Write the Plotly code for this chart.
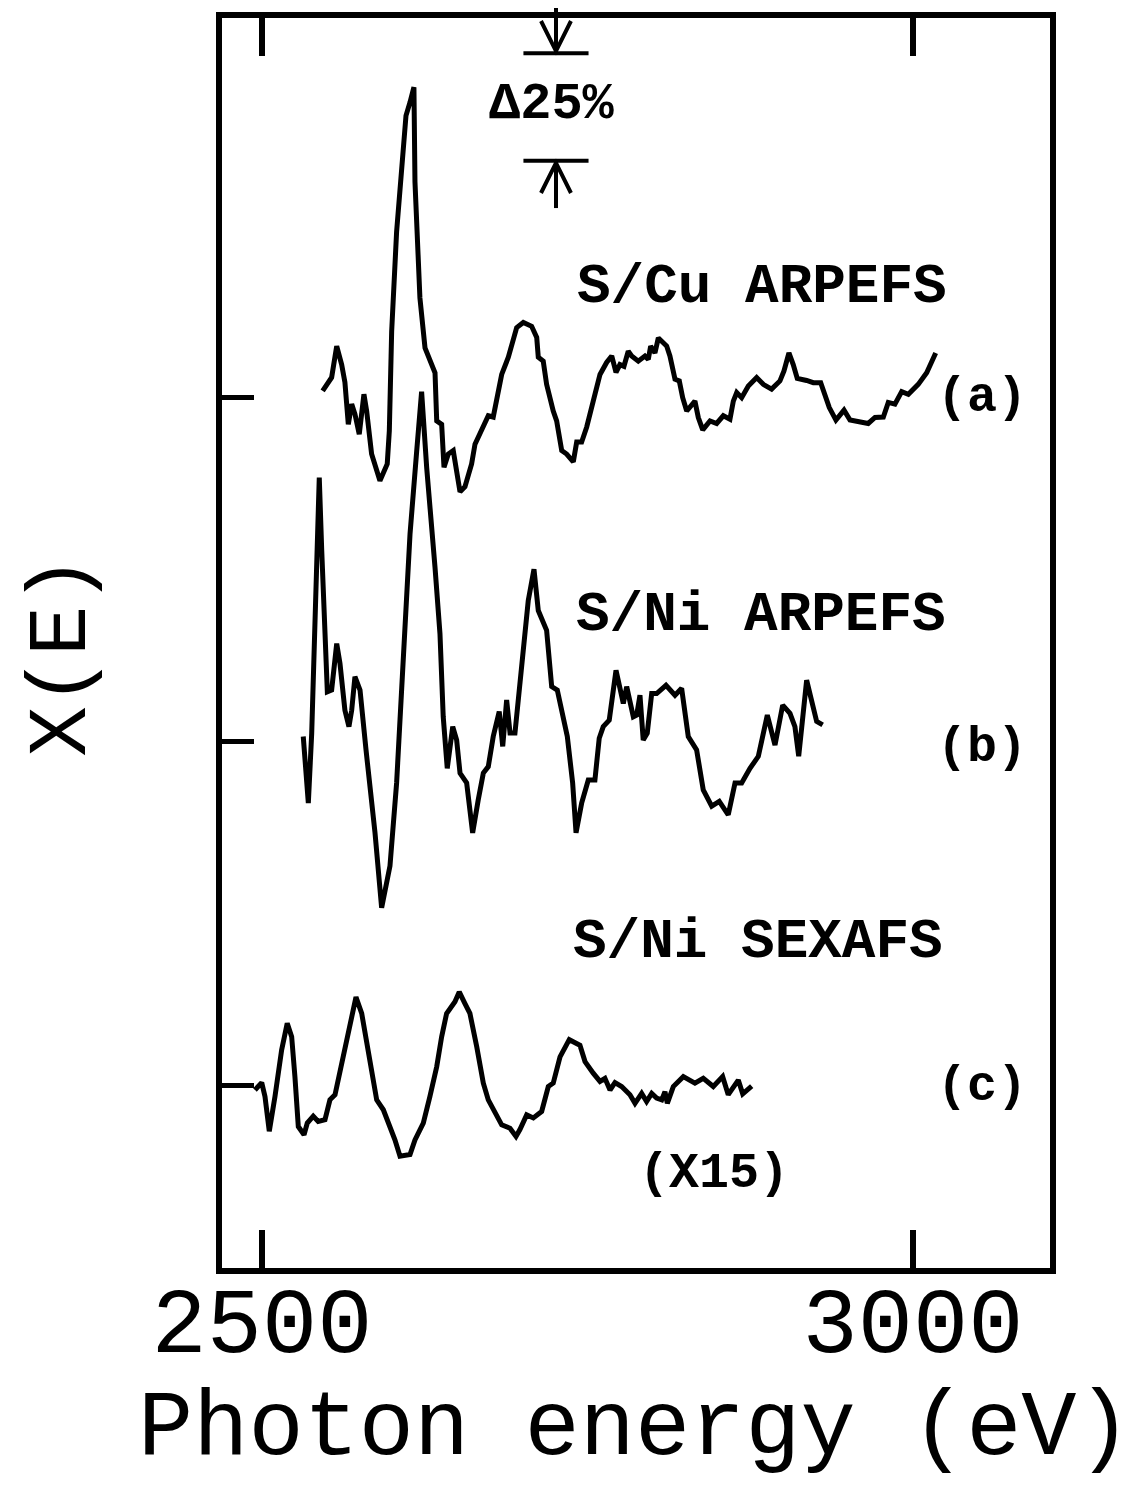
import plotly.graph_objects as go

# ---------------- data (photon energy in eV, chi in % units) ----------------
# (a) S/Cu ARPEFS
cu_arpefs_E = [2546.6, 2553.5, 2557.4, 2561.2, 2563.7, 2566.3, 2568.9, 2571.4, 2574.7, 2578.3,
               2580.4, 2584.2, 2590.6, 2596.2, 2597.8, 2599.6, 2603.4, 2607.3, 2610.6, 2613.7,
               2616.7, 2617.5, 2618.8, 2621.3, 2625.2, 2629.8, 2632.9, 2634.2, 2638.0, 2639.8,
               2643.1, 2646.9, 2649.5, 2652.1, 2655.9, 2661.0, 2663.6, 2670.0, 2673.8, 2677.6,
               2680.2, 2684.1, 2689.2, 2695.6, 2700.7, 2707.1, 2711.0, 2712.2, 2716.0, 2718.6,
               2723.7, 2726.3, 2730.2, 2734.0, 2739.1, 2741.7, 2745.5, 2749.4, 2754.4, 2759.6,
               2764.7, 2768.6, 2771.9, 2774.9, 2778.0, 2781.3, 2783.9, 2789.0, 2794.1, 2796.7,
               2798.5, 2801.8, 2804.4, 2810.8, 2813.3, 2817.2, 2820.5, 2823.1, 2826.2, 2832.5,
               2835.1, 2838.5, 2844.1, 2849.2, 2854.3, 2859.4, 2862.0, 2864.6, 2868.4, 2873.5,
               2879.9, 2885.0, 2891.4, 2897.8, 2900.9, 2904.7, 2908.0, 2911.1, 2918.3, 2923.4,
               2929.1, 2932.4, 2935.7, 2940.8, 2947.0, 2951.6, 2959.3, 2965.6, 2970.8, 2977.2,
               2981.0, 2986.1, 2991.3, 2996.4, 3004.0, 3010.5, 3017.4]
cu_arpefs_chi = [1.5, 4.6, 11.9, 7.6, 3.5, -6.3, -1.6, -3.9, -8.6, 0.7,
                 -3.2, -13.2, -19.4, -15.5, -7.8, 15.3, 38.5, 53.9, 65.5, 68.6,
                 72.1, 50.1, 38.5, 23.1, 11.5, 7.6, 5.7, -5.5, -6.3, -16.3,
                 -13.2, -12.4, -17.1, -22.0, -20.8, -15.5, -10.9, -6.9, -4.3, -4.6,
                 0.0, 5.3, 9.3, 16.2, 17.4, 16.5, 13.9, 9.3, 8.4, 3.0,
                 -3.2, -5.5, -12.4, -13.2, -15.0, -10.4, -10.4, -6.9, -0.9, 5.3,
                 8.1, 9.6, 5.8, 7.6, 7.2, 10.7, 9.6, 8.4, 9.6, 8.8,
                 11.9, 10.3, 13.8, 11.9, 9.6, 4.2, 3.8, -0.1, -3.2, -0.9,
                 -4.7, -7.6, -5.5, -6.1, -4.3, -5.1, -0.9, 1.1, -0.1, 2.6,
                 4.6, 3.0, 1.9, 3.8, 6.1, 10.3, 7.6, 4.4, 3.9, 3.4,
                 3.4, 0.7, -2.4, -5.3, -3.0, -5.3, -5.6, -6.1, -4.7, -4.6,
                 -1.2, -1.6, 1.3, 0.7, 3.0, 5.7, 10.3]

# (b) S/Ni ARPEFS
ni_arpefs_E = [2531.7, 2535.6, 2538.2, 2539.4, 2541.5, 2544.0, 2545.9, 2548.4, 2550.2, 2553.5,
               2557.4, 2559.9, 2563.7, 2566.8, 2568.9, 2571.4, 2575.3, 2579.9, 2586.8, 2591.9,
               2598.3, 2603.4, 2608.5, 2613.7, 2618.8, 2622.6, 2626.5, 2630.3, 2632.9, 2636.7,
               2639.2, 2642.3, 2646.5, 2649.5, 2652.1, 2657.2, 2661.8, 2666.1, 2670.0, 2673.8,
               2677.6, 2682.2, 2684.9, 2687.9, 2690.5, 2694.3, 2698.1, 2704.5, 2708.9, 2712.2,
               2718.6, 2722.5, 2726.8, 2731.4, 2734.5, 2738.6, 2741.2, 2745.5, 2750.6, 2755.7,
               2759.0, 2762.1, 2766.7, 2771.9, 2774.9, 2777.5, 2780.1, 2782.6, 2785.2, 2787.8,
               2790.3, 2792.8, 2795.9, 2799.3, 2803.1, 2810.3, 2817.2, 2822.3, 2827.4, 2833.8,
               2838.9, 2845.4, 2851.2, 2858.1, 2863.3, 2868.4, 2874.8, 2881.2, 2888.1, 2894.0,
               2899.9, 2905.5, 2909.3, 2912.2, 2918.3, 2921.4, 2926.0, 2930.6]
ni_arpefs_chi = [1.1, -14.4, 1.9, 16.5, 36.6, 61.3, 44.3, 21.1, 11.5, 11.9,
                 22.7, 18.1, 7.2, 3.4, 7.2, 15.0, 11.9, -2.0, -21.3, -38.7,
                 -29.0, -9.7, 21.1, 48.2, 67.4, 81.3, 63.6, 50.5, 40.4, 25.0,
                 5.7, -6.3, 3.4, 0.3, -7.4, -9.7, -21.3, -13.6, -7.4, -5.9,
                 1.1, 6.9, -1.2, 9.6, 1.9, 1.9, 13.4, 32.7, 40.0, 30.4,
                 25.8, 12.7, 11.9, 5.7, 1.1, -9.7, -21.3, -14.4, -9.0, -9.0,
                 0.7, 3.4, 4.9, 16.5, 12.7, 8.8, 12.7, 8.8, 5.7, 6.1,
                 10.7, 0.3, 1.9, 11.1, 11.1, 13.0, 10.7, 12.3, 1.1, -2.0,
                 -11.3, -15.1, -14.0, -17.1, -9.7, -9.7, -6.3, -3.5, 6.1, -0.9,
                 8.4, 6.5, 3.4, -3.5, 14.2, 10.3, 4.6, 3.8]

# (c) S/Ni SEXAFS (shown x15)
ni_sexafs_E = [2494.6, 2499.8, 2502.3, 2505.6, 2510.0, 2515.1, 2519.4, 2522.8, 2525.3, 2527.9,
               2532.3, 2534.8, 2539.4, 2543.2, 2548.4, 2552.2, 2556.1, 2561.2, 2565.0, 2568.9,
               2572.2, 2576.6, 2581.6, 2588.1, 2593.2, 2598.3, 2602.1, 2606.0, 2613.7, 2617.5,
               2623.9, 2629.0, 2634.2, 2638.0, 2641.8, 2648.2, 2651.5, 2655.9, 2659.7, 2664.9,
               2670.0, 2673.8, 2678.9, 2684.1, 2690.5, 2695.1, 2698.1, 2703.3, 2708.4, 2714.8,
               2719.9, 2723.7, 2728.9, 2736.0, 2744.2, 2748.1, 2754.4, 2759.6, 2763.4, 2767.3,
               2771.1, 2776.2, 2782.6, 2786.5, 2791.6, 2795.4, 2799.3, 2803.1, 2807.0, 2809.5,
               2811.3, 2815.9, 2823.6, 2832.5, 2838.9, 2846.6, 2853.8, 2858.1, 2865.8, 2869.2,
               2876.1]
ni_sexafs_chi = [-1.1, 0.6, -2.6, -10.7, -2.6, 8.2, 14.4, 11.3, 2.0, -9.6,
                 -11.5, -8.8, -7.2, -8.4, -8.0, -3.4, -2.2, 5.1, 10.5, 16.7,
                 20.5, 16.7, 7.4, -3.4, -5.7, -9.6, -12.7, -16.5, -16.1, -12.7,
                 -8.8, -2.6, 4.3, 11.3, 16.7, 19.4, 21.7, 19.0, 16.7, 9.0,
                 0.5, -3.4, -6.1, -9.2, -10.0, -11.9, -10.3, -6.9, -7.6, -6.1,
                 -0.3, 0.5, 6.6, 10.6, 9.3, 5.5, 2.8, 0.9, 1.6, -1.1,
                 0.6, -0.3, -2.2, -4.2, -1.9, -3.8, -1.9, -3.0, -3.4, -1.5,
                 -4.2, -0.3, 2.0, 0.5, 1.6, -0.3, 2.0, -2.2, 1.2, -2.0,
                 -0.2]

# vertical offsets of the three stacked curves (% units)
offsets = [0, -80, -160]
curve_labels = ["S/Cu ARPEFS", "S/Ni ARPEFS", "S/Ni SEXAFS"]
panel_tags = ["(a)", "(b)", "(c)"]
x_ticks = [2500, 3000]
x_tick_text = ["2500", "3000"]
scale_bar_percent = 25
scale_bar_top = 80

X_RANGE = [2469.3, 3105.2]
Y_RANGE = [-202.5, 88.2]

FONT = "Liberation Mono"
INK = "black"

fig = go.Figure()
series = [(cu_arpefs_E, cu_arpefs_chi), (ni_arpefs_E, ni_arpefs_chi), (ni_sexafs_E, ni_sexafs_chi)]
for (E, chi), off, name in zip(series, offsets, curve_labels):
    fig.add_trace(go.Scatter(x=E, y=[v + off for v in chi], mode="lines", name=name,
                             line=dict(color=INK, width=5, shape="linear"),
                             showlegend=False, hoverinfo="skip"))

annotations = []
label_pos = [(2884, 25.7), (2883, -50.7), (2881, -126.6)]
for (lx, ly), txt in zip(label_pos, curve_labels):
    annotations.append(dict(x=lx, y=ly, xref="x", yref="y", text="<b>" + txt + "</b>", showarrow=False,
                            font=dict(family=FONT, size=56, color=INK), xanchor="center", yanchor="middle"))
tag_pos = [(3053.0, 0.0), (3053.0, -81.5), (3053.0, -160.2)]
for (tx, ty), txt in zip(tag_pos, panel_tags):
    annotations.append(dict(x=tx, y=ty, xref="x", yref="y", text="<b>" + txt + "</b>", showarrow=False,
                            font=dict(family=FONT, size=50, color=INK), xanchor="center", yanchor="middle"))
annotations.append(dict(x=2847, y=-180.6, xref="x", yref="y", text="<b>(X15)</b>", showarrow=False,
                        font=dict(family=FONT, size=50, color=INK)))
annotations.append(dict(x=2722.5, y=scale_bar_top - scale_bar_percent / 2 + 0.5, xref="x", yref="y",
                        text="<b>\u039425%</b>", showarrow=False,
                        font=dict(family=FONT, size=52, color=INK)))
annotations.append(dict(x=0.499, y=-0.129, xref="paper", yref="paper", text="Photon energy (eV)",
                        showarrow=False, font=dict(family=FONT, size=92, color=INK),
                        xanchor="center", yanchor="middle"))
annotations.append(dict(x=-0.193, y=0.49, xref="paper", yref="paper", text="X(E)", textangle=-90,
                        showarrow=False, font=dict(family=FONT, size=84, color=INK),
                        xanchor="center", yanchor="middle"))

# scale bar (delta 25%)
def ypaper(v):
    return (v - Y_RANGE[0]) / (Y_RANGE[1] - Y_RANGE[0])

bar_x = 2725.8
bar_half = 25.0
top_y = scale_bar_top
bot_y = scale_bar_top - scale_bar_percent
shapes = []
lw = 4
for yv in (top_y, bot_y):
    shapes.append(dict(type="line", xref="x", yref="paper", x0=bar_x - bar_half, x1=bar_x + bar_half,
                       y0=ypaper(yv), y1=ypaper(yv), line=dict(color=INK, width=lw)))
# top arrow (pointing down to top bar)
shapes.append(dict(type="line", xref="x", yref="paper", x0=bar_x, x1=bar_x,
                   y0=ypaper(top_y), y1=1.012, line=dict(color=INK, width=lw)))
shapes.append(dict(type="path", xref="x", yref="paper",
                   path=f"M {bar_x - 11.5} {ypaper(top_y + 7.5)} L {bar_x} {ypaper(top_y + 0.5)} L {bar_x + 11.5} {ypaper(top_y + 7.5)}",
                   line=dict(color=INK, width=lw)))
# bottom arrow (pointing up to bottom bar)
shapes.append(dict(type="line", xref="x", yref="paper", x0=bar_x, x1=bar_x,
                   y0=ypaper(bot_y), y1=ypaper(bot_y - 11), line=dict(color=INK, width=lw)))
shapes.append(dict(type="path", xref="x", yref="paper",
                   path=f"M {bar_x - 11.5} {ypaper(bot_y - 7.5)} L {bar_x} {ypaper(bot_y - 0.5)} L {bar_x + 11.5} {ypaper(bot_y - 7.5)}",
                   line=dict(color=INK, width=lw)))

fig.update_layout(
    width=1142, height=1485,
    margin=dict(l=214, r=100, t=4, b=225),
    paper_bgcolor="white", plot_bgcolor="white",
    annotations=annotations, shapes=shapes,
    showlegend=False,
)
fig.update_xaxes(range=X_RANGE, tickvals=x_ticks, ticktext=x_tick_text, ticks="inside",
                 ticklen=38, tickwidth=6, tickcolor=INK, showline=True, linewidth=6, linecolor=INK,
                 mirror="ticks", showgrid=False, zeroline=False,
                 tickfont=dict(family=FONT, size=92, color=INK), ticklabelstandoff=-32)
fig.update_yaxes(range=Y_RANGE, tickvals=offsets, showticklabels=False, ticks="inside",
                 ticklen=32, tickwidth=5, tickcolor=INK, showline=True, linewidth=6, linecolor=INK,
                 mirror=True, showgrid=False, zeroline=False)

fig.write_html("out.html")
